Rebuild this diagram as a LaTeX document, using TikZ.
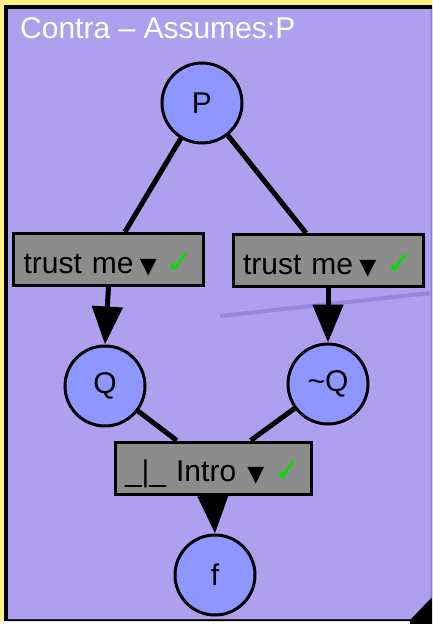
\documentclass[tikz,border=0pt]{standalone}
\usepackage{fontspec}
\setmainfont{Liberation Sans}
\newfontfamily\symfont{DejaVu Sans}
\usetikzlibrary{arrows.meta}

\definecolor{framebg}{RGB}{174,160,238}
\definecolor{frameedge}{RGB}{140,126,205}
\definecolor{strayline}{RGB}{150,134,222}
\definecolor{propfill}{RGB}{142,150,255}
\definecolor{rulegray}{RGB}{140,140,140}
\definecolor{okgreen}{RGB}{0,225,0}
\definecolor{edgeyellow}{RGB}{255,240,130}

\newcommand{\dropmark}{{\symfont\fontsize{22}{22}\selectfont ▼}}
\newcommand{\okmark}{{\symfont\bfseries\fontsize{32}{32}\selectfont\color{okgreen}✓}}

\begin{document}
\begin{tikzpicture}[x=1pt, y=-1pt,
    prop/.style={circle, draw, line width=3pt, fill=propfill, minimum size=80pt, inner sep=0pt},
    rulebox/.style={rectangle, draw, line width=3pt, fill=rulegray, minimum height=52pt,
        text width=170pt, text height=27pt, text depth=0pt, inner xsep=10pt, inner ysep=0pt},
    wire/.style={line width=5pt},
    infer/.style={line width=5pt, -{Triangle[width=30pt, length=38pt]}}]

        \useasboundingbox (0,0) rectangle (432,624);
        \fontsize{30}{33}\selectfont

        % frame of the proof box
        \fill[white] (0,0) rectangle (432,624);
        \fill[edgeyellow] (0,0) rectangle (432,5);
        \fill[edgeyellow] (0,0) rectangle (4,621);
        \fill[black] (4,5) -- (432,5) -- (432,624) -- (410,624) -- (410,621) -- (4,621) -- cycle;
        \fill[frameedge] (8,9) -- (432,9) -- (432,597) -- (411,619) -- (8,619) -- cycle;
        \fill[framebg] (8,9) -- (430.5,9) -- (430.5,598) -- (410.5,619) -- (8,619) -- cycle;
        \node[anchor=base west, text=white, inner sep=0pt] (title) at (20,38) {Contra – Assumes:P};

        % faint line across the box
        \draw[strayline, line width=4pt] (220,316) -- (430.5,293);

        % propositions and rules
        \node[prop] (p) at (202,103) {P};
        \node[rulebox] (trustl) at (108.5,259.5) {trust me\hfill\dropmark\ \okmark};
        \node[rulebox] (trustr) at (328,260.5) {trust me\hfill\dropmark\ \okmark};
        \node[prop] (q) at (105,386) {Q};
        \node[prop] (notq) at (328,384) {\textasciitilde Q};
        \node[rulebox, text width=176pt] (intro) at (213,468) {\_|\_ Intro\hfill\dropmark\ \okmark};
        \node[prop] (f) at (215,575) {f};

        % connectors
        \draw[wire] (p) -- (trustl);
        \draw[wire] (p) -- (trustr);
        \draw[infer] (trustl.south) -- (q.north);
        \draw[infer] (trustr.south) -- (notq.north);
        \draw[wire] (q) -- (intro);
        \draw[wire] (notq) -- (intro);
        \draw[infer] (intro.south) -- (f.north);

\end{tikzpicture}
\end{document}
